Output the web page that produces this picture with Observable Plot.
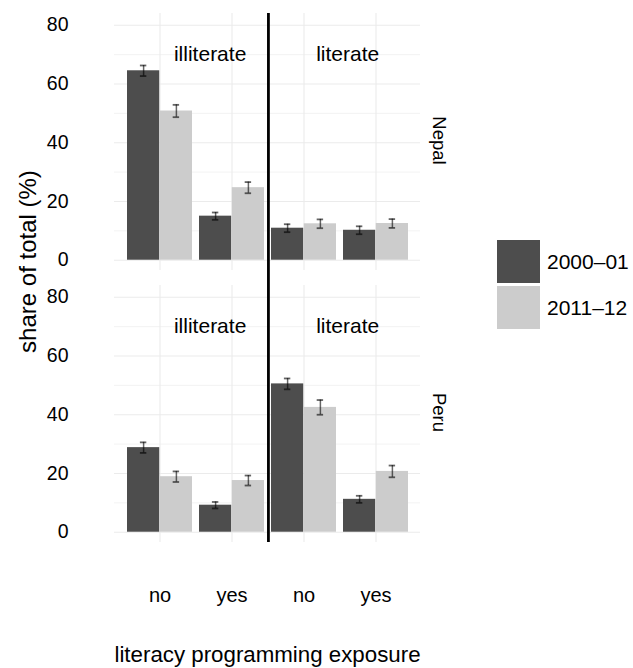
<!DOCTYPE html>
<html><head><meta charset="utf-8">
<script src="https://cdn.jsdelivr.net/npm/d3@7"></script>
<script src="https://cdn.jsdelivr.net/npm/@observablehq/plot@0.6"></script>
<style>
body{margin:0;background:#fff;font-family:"Liberation Sans",Arial,Helvetica,sans-serif;}
#wrap{position:relative;width:633px;height:668px;}
#legend{position:absolute;left:497px;top:240px;}
.key{display:flex;align-items:center;height:43px;margin-bottom:3px;}
.sw{width:43px;height:43px;margin-right:7px;}
.lab{font-size:21px;color:#000;}
</style></head><body><div id="wrap"><div id="legend"></div></div>
<script>
const countries = ["Nepal", "Peru"];
const years = ["2000–01", "2011–12"];
const literacy = ["illiterate", "illiterate", "literate", "literate"];
const exposure = ["no", "yes", "no", "yes"];
const nepal2000 = [64.5, 15.0, 10.9, 10.2];
const nepal2011 = [50.8, 24.7, 12.4, 12.5];
const peru2000 = [28.8, 9.2, 50.5, 11.2];
const peru2011 = [18.9, 17.6, 42.5, 20.7];
const nepal2000Err = [1.8, 1.25, 1.35, 1.35];
const nepal2011Err = [2.1, 1.9, 1.5, 1.5];
const peru2000Err = [1.8, 1.1, 1.85, 1.2];
const peru2011Err = [1.8, 1.7, 2.5, 2.0];
const yTicks = [0, 20, 40, 60, 80];
const yMinor = [10, 30, 50, 70];
const annotLabels = ["illiterate", "literate"];
const annotY = 70;
const yTitle = "share of total (%)";
const xTitle = "literacy programming exposure";
const colors = ["#4d4d4d", "#cccccc"];

const groups = literacy.map((l, i) => l + " " + exposure[i]);
const series = {
  "Nepal": [[nepal2000, nepal2000Err], [nepal2011, nepal2011Err]],
  "Peru": [[peru2000, peru2000Err], [peru2011, peru2011Err]]
};
const table = [];
countries.forEach(c => years.forEach((yr, k) => groups.forEach((g, i) => {
  table.push({country: c, year: yr, group: g, value: series[c][k][0][i], err: series[c][k][1][i]});
})));

const W = 633, H = 668, mL = 114, mR = 213, mT = 13, mB = 125;
const step = (W - mL - mR) / 4.2;
const bw = step * 0.9, half = bw / 2;
const capIn = (bw - 7) / 2;
const font = "'Liberation Sans', Arial, Helvetica, sans-serif";
const gap = 15;

const errMarks = [];
years.forEach((yr, k) => {
  const dx = k === 0 ? -half / 2 : half / 2;
  const f = d => d.year === yr;
  const common = {filter: f, x: "group", fy: "country", dx, stroke: "#000", strokeOpacity: 0.6};
  errMarks.push(Plot.ruleX(table, {...common, y1: d => d.value - d.err, y2: d => d.value + d.err, strokeWidth: 1.5}));
  errMarks.push(Plot.tickY(table, {...common, y: d => d.value - d.err, insetLeft: capIn, insetRight: capIn, strokeWidth: 1.8}));
  errMarks.push(Plot.tickY(table, {...common, y: d => d.value + d.err, insetLeft: capIn, insetRight: capIn, strokeWidth: 1.8}));
});

const chart = Plot.plot({
  width: W, height: H,
  marginLeft: mL, marginRight: mR, marginTop: mT, marginBottom: mB,
  style: {fontFamily: font, fontSize: "20px", background: "white", color: "black"},
  x: {domain: groups, paddingInner: 0.1, paddingOuter: 0.15},
  y: {domain: [-3.5, 84], label: null},
  fy: {domain: countries, paddingInner: 0.055, paddingOuter: 0, axis: null},
  color: {domain: years, range: colors},
  marks: [
    Plot.ruleY(yMinor, {stroke: "#ebebeb", strokeWidth: 0.6}),
    Plot.ruleY(yTicks, {stroke: "#ebebeb", strokeWidth: 1.1}),
    Plot.ruleX(groups, {stroke: "#ebebeb", strokeWidth: 1.1}),
    Plot.barY(table, {filter: d => d.year === years[0], x: "group", y: "value", fy: "country", fill: "year", insetRight: half}),
    Plot.barY(table, {filter: d => d.year === years[1], x: "group", y: "value", fy: "country", fill: "year", insetLeft: half}),
    ...errMarks,
    Plot.ruleX([countries[0]], {x: () => groups[1], fy: d => d, dx: step / 2, stroke: "black", strokeWidth: 2.8, insetBottom: -gap}),
    Plot.ruleX([countries[1]], {x: () => groups[1], fy: d => d, dx: step / 2, stroke: "black", strokeWidth: 2.8}),
    Plot.text([annotLabels[0]], {x: () => groups[1], y: () => annotY, dx: -0.3 * step, fontSize: 21}),
    Plot.text([annotLabels[1]], {x: () => groups[2], y: () => annotY, dx: 0.6 * step, fontSize: 21}),
    Plot.text(countries, {fy: d => d, text: d => d, frameAnchor: "right", textAnchor: "middle", lineAnchor: "middle", rotate: 90, dx: 18, dy: -1.5, fontSize: 18.5}),
    Plot.text([yTitle], {fy: [countries[0]], frameAnchor: "left", textAnchor: "middle", lineAnchor: "middle", rotate: -90, dx: -86, dy: 119.5, fontSize: 24}),
    Plot.text([xTitle], {fy: [countries[1]], frameAnchor: "bottom", textAnchor: "middle", lineAnchor: "middle", dy: 112, fontSize: 22.3}),
    Plot.axisY(yTicks, {tickSize: 0, tickPadding: 46, fontSize: 19.5, label: null}),
    Plot.axisX({tickSize: 0, tickPadding: 45, fontSize: 20, label: null, tickFormat: g => exposure[groups.indexOf(g)]})
  ]
});
document.getElementById("wrap").prepend(chart);

const leg = document.getElementById("legend");
years.forEach((yr, k) => {
  const row = document.createElement("div");
  row.className = "key";
  row.innerHTML = `<div class="sw" style="background:${colors[k]}"></div><span class="lab">${yr}</span>`;
  leg.appendChild(row);
});
</script>
</body></html>
